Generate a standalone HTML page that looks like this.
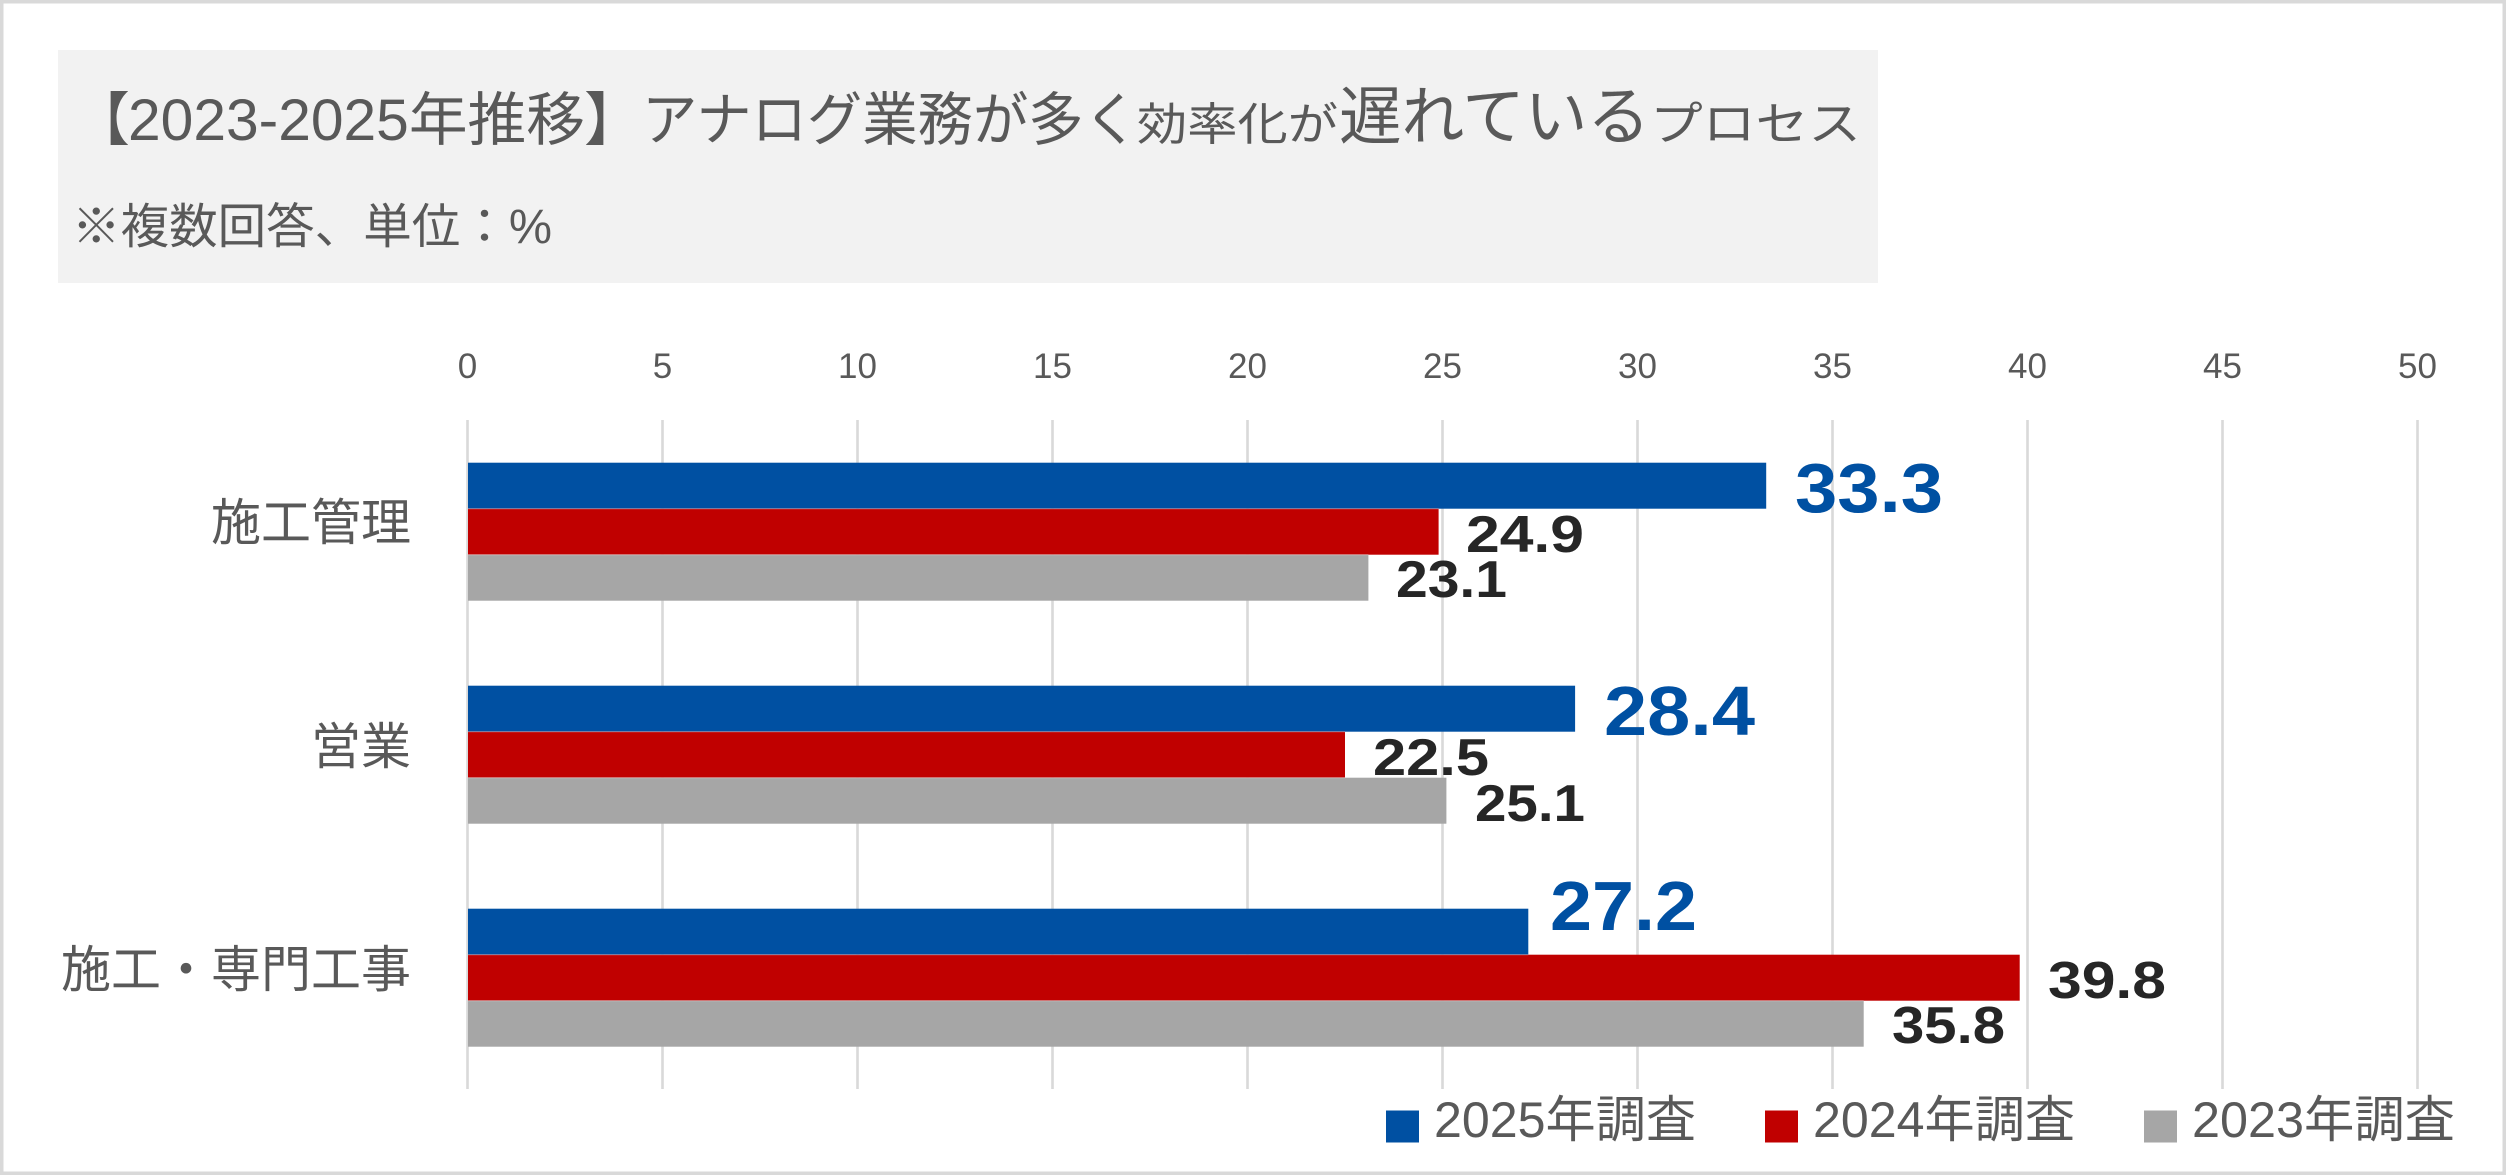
<!DOCTYPE html>
<html lang="ja">
<head>
<meta charset="utf-8">
<style>
  html, body { margin: 0; padding: 0; background: #ffffff; }
  body { width: 2506px; height: 1175px; overflow: hidden; }
  svg { display: block; }
  text { font-family: "Liberation Sans", "Noto Sans CJK JP", sans-serif; }
</style>
</head>
<body>
<svg width="2506" height="1175" viewBox="0 0 2506 1175" xmlns="http://www.w3.org/2000/svg">
  <!-- background & outer border -->
  <rect x="0" y="0" width="2506" height="1175" fill="#ffffff"/>
  <rect x="1.75" y="1.75" width="2502.5" height="1171.5" fill="none" stroke="#d9d9d9" stroke-width="3.5"/>

  <!-- title box -->
  <rect x="58" y="50" width="1820" height="233" fill="#f2f2f2"/>
  <g fill="#595959">
    <text x="72" y="140" font-size="58">【</text>
    <text x="128" y="140" font-size="58" textLength="457" lengthAdjust="spacingAndGlyphs">2023-2025年推移</text>
    <text x="584" y="140" font-size="58">】</text>
    <text x="642" y="140" font-size="58" textLength="497" lengthAdjust="spacingAndGlyphs">アナログ業務が多く</text>
    <text x="1137" y="140" font-size="45" textLength="201" lengthAdjust="spacingAndGlyphs">効率化が</text>
    <text x="1339" y="139" font-size="64" textLength="311" lengthAdjust="spacingAndGlyphs">遅れている</text>
    <text x="1650" y="140" font-size="46" textLength="211" lengthAdjust="spacingAndGlyphs">プロセス</text>
    <text x="72" y="243" font-size="48" textLength="480" lengthAdjust="spacingAndGlyphs">※複数回答、単位：%</text>
  </g>

  <!-- tick labels -->
  <g fill="#595959" font-size="35" text-anchor="middle">
    <text x="467.5" y="378">0</text>
    <text x="662.5" y="378">5</text>
    <text x="857.5" y="378">10</text>
    <text x="1052.5" y="378">15</text>
    <text x="1247.5" y="378">20</text>
    <text x="1442.5" y="378">25</text>
    <text x="1637.5" y="378">30</text>
    <text x="1832.5" y="378">35</text>
    <text x="2027.5" y="378">40</text>
    <text x="2222.5" y="378">45</text>
    <text x="2417.5" y="378">50</text>
  </g>

  <!-- gridlines -->
  <g stroke="#d9d9d9" stroke-width="2.6">
    <line x1="467.5" y1="420" x2="467.5" y2="1089"/>
    <line x1="662.5" y1="420" x2="662.5" y2="1089"/>
    <line x1="857.5" y1="420" x2="857.5" y2="1089"/>
    <line x1="1052.5" y1="420" x2="1052.5" y2="1089"/>
    <line x1="1247.5" y1="420" x2="1247.5" y2="1089"/>
    <line x1="1442.5" y1="420" x2="1442.5" y2="1089"/>
    <line x1="1637.5" y1="420" x2="1637.5" y2="1089"/>
    <line x1="1832.5" y1="420" x2="1832.5" y2="1089"/>
    <line x1="2027.5" y1="420" x2="2027.5" y2="1089"/>
    <line x1="2222.5" y1="420" x2="2222.5" y2="1089"/>
    <line x1="2417.5" y1="420" x2="2417.5" y2="1089"/>
  </g>

  <!-- bars: x0=468, 39px per unit -->
  <!-- group 1: 施工管理 -->
  <rect x="468" y="462.7" width="1298.2" height="46" fill="#0050a2"/>
  <rect x="468" y="508.7" width="970.6" height="46" fill="#c00000"/>
  <rect x="468" y="554.7" width="900.4" height="46" fill="#a6a6a6"/>
  <!-- group 2: 営業 -->
  <rect x="468" y="685.7" width="1107.1" height="46" fill="#0050a2"/>
  <rect x="468" y="731.7" width="877" height="46" fill="#c00000"/>
  <rect x="468" y="777.7" width="978.4" height="46" fill="#a6a6a6"/>
  <!-- group 3: 施工・専門工事 -->
  <rect x="468" y="908.7" width="1060.3" height="46" fill="#0050a2"/>
  <rect x="468" y="954.7" width="1551.7" height="46" fill="#c00000"/>
  <rect x="468" y="1000.7" width="1395.7" height="46" fill="#a6a6a6"/>

  <!-- bar separators (subtle) -->
  <g stroke="#ffffff" stroke-opacity="0.35" stroke-width="1">
    <line x1="468" y1="508.7" x2="1438.6" y2="508.7"/>
    <line x1="468" y1="554.7" x2="1368.4" y2="554.7"/>
    <line x1="468" y1="731.7" x2="1345" y2="731.7"/>
    <line x1="468" y1="777.7" x2="1345" y2="777.7"/>
    <line x1="468" y1="954.7" x2="1528.3" y2="954.7"/>
    <line x1="468" y1="1000.7" x2="1863.7" y2="1000.7"/>
  </g>

  <!-- category labels -->
  <g fill="#595959" font-size="50" text-anchor="end">
    <text x="411" y="540">施工管理</text>
    <text x="411" y="764">営業</text>
    <text x="411" y="987">施工・専門工事</text>
  </g>

  <!-- data labels: 2025 (blue, large) -->
  <g fill="#0050a2" font-size="70" font-weight="bold">
    <text x="1795" y="512" textLength="148" lengthAdjust="spacingAndGlyphs">33.3</text>
    <text x="1604" y="735" textLength="151" lengthAdjust="spacingAndGlyphs">28.4</text>
    <text x="1550" y="930" textLength="147" lengthAdjust="spacingAndGlyphs">27.2</text>
  </g>
  <!-- data labels: 2024/2023 (dark) -->
  <g fill="#262626" font-size="52" font-weight="bold">
    <text x="1466" y="552" textLength="118" lengthAdjust="spacingAndGlyphs">24.9</text>
    <text x="1396" y="597" textLength="111" lengthAdjust="spacingAndGlyphs">23.1</text>
    <text x="1373" y="775" textLength="116" lengthAdjust="spacingAndGlyphs">22.5</text>
    <text x="1475" y="821" textLength="110" lengthAdjust="spacingAndGlyphs">25.1</text>
    <text x="2048" y="998" textLength="118" lengthAdjust="spacingAndGlyphs">39.8</text>
    <text x="1892" y="1043" textLength="113" lengthAdjust="spacingAndGlyphs">35.8</text>
  </g>

  <!-- legend -->
  <rect x="1386" y="1110.5" width="33" height="32" fill="#0050a2"/>
  <rect x="1765" y="1110.5" width="33" height="32" fill="#c00000"/>
  <rect x="2144" y="1110.5" width="33" height="32" fill="#a6a6a6"/>
  <g fill="#595959" font-size="50">
    <text x="1434" y="1137" textLength="262" lengthAdjust="spacingAndGlyphs">2025年調査</text>
    <text x="1813" y="1137" textLength="262" lengthAdjust="spacingAndGlyphs">2024年調査</text>
    <text x="2192" y="1137" textLength="263" lengthAdjust="spacingAndGlyphs">2023年調査</text>
  </g>
</svg>
</body>
</html>
